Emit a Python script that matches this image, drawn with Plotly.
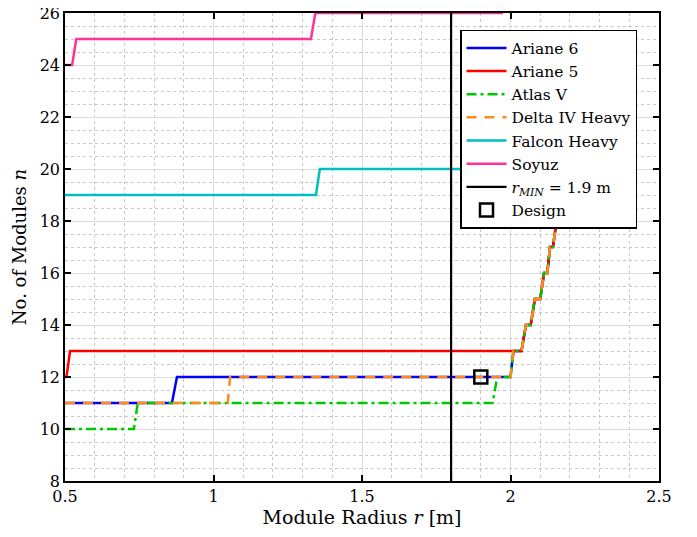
import plotly.graph_objects as go

# Common steep staircase (shared by Ariane 6, Ariane 5, Atlas V, Delta IV Heavy)
stair_r = [2.0, 2.01, 2.037, 2.052, 2.068, 2.082, 2.1, 2.113, 2.124, 2.133, 2.143, 2.155, 2.165, 2.175, 2.185, 2.195]
stair_n = [12, 13, 13, 14, 14, 15, 15, 16, 16, 17, 17, 18, 18, 19, 19, 20]

ariane6_r = [0.5, 0.86, 0.877] + stair_r
ariane6_n = [11, 11, 12] + stair_n

ariane5_r = [0.5, 0.505, 0.517] + stair_r[2:]
ariane5_n = [12, 12, 13] + stair_n[2:]

atlas_r = [0.5, 0.732, 0.745, 1.94, 1.955] + stair_r
atlas_n = [10, 10, 11, 11, 12] + stair_n

delta_r = [0.5, 1.048, 1.056] + stair_r
delta_n = [11, 11, 12] + stair_n

falcon_r = [0.5, 1.345, 1.358, 1.975]
falcon_n = [19, 19, 20, 20]

soyuz_r = [0.5, 0.524, 0.538, 1.328, 1.343, 1.975]
soyuz_n = [24, 24, 25, 25, 26, 26]

rmin_r = [1.8, 1.8]
rmin_n = [8, 26]

design_r = [1.9]
design_n = [12]

FONT = "DejaVu Serif"

fig = go.Figure()
series = [
    ("Ariane 6", ariane6_r, ariane6_n, "#0000FF", "solid"),
    ("Ariane 5", ariane5_r, ariane5_n, "#FF0000", "solid"),
    ("Atlas V", atlas_r, atlas_n, "#00C800", "10px,4px,3px,4px"),
    ("Delta IV Heavy", delta_r, delta_n, "#FF8C1A", "10px,8px"),
    ("Falcon Heavy", falcon_r, falcon_n, "#00BFBF", "solid"),
    ("Soyuz", soyuz_r, soyuz_n, "#FF3399", "solid"),
]
for name, xr, yn, col, dash in series:
    fig.add_trace(go.Scatter(x=xr, y=yn, mode="lines", name=name,
                             line=dict(color=col, width=2.5, dash=dash)))

fig.add_trace(go.Scatter(x=rmin_r, y=rmin_n, mode="lines",
                         name="<i>r</i><sub><i>MIN</i></sub> = 1.9 m",
                         line=dict(color="black", width=2.2)))
fig.add_trace(go.Scatter(x=design_r, y=design_n, mode="markers", name="Design",
                         marker=dict(symbol="square-open", size=13, color="black",
                                     line=dict(width=2.5, color="black"))))

axis_common = dict(
    showline=True, linecolor="black", linewidth=1.5, mirror="allticks",
    ticks="inside", ticklen=6, tickwidth=1.5, tickcolor="black",
    showgrid=True, gridcolor="#DCDCDC", gridwidth=1, zeroline=False,
    tickfont=dict(family=FONT, size=16, color="black"),
    automargin=False, ticklabeloverflow="allow",
)

fig.update_xaxes(range=[0.5, 2.5], dtick=0.5, tick0=0.5,
                 title=dict(text="Module Radius <i>r</i> [m]", font=dict(family=FONT, size=19, color="black"), standoff=4),
                 minor=dict(dtick=0.1, showgrid=True, gridcolor="#C8C8C8", griddash="dot", gridwidth=1, ticks=""),
                 **axis_common)
fig.update_yaxes(range=[8, 26], dtick=2, tick0=8,
                 title=dict(text="No. of Modules <i>n</i>", font=dict(family=FONT, size=18, color="black"), standoff=8),
                 minor=dict(dtick=0.5, showgrid=True, gridcolor="#C8C8C8", griddash="dot", gridwidth=1, ticks=""),
                 **axis_common)

fig.update_layout(
    width=697, height=537,
    margin=dict(l=57, r=46, t=5, b=64, autoexpand=False),
    paper_bgcolor="white", plot_bgcolor="white",
    font=dict(family=FONT, color="black"),
    legend=dict(x=0.665, y=0.964, xanchor="left", yanchor="top",
                bgcolor="white", bordercolor="black", borderwidth=1.5,
                font=dict(family=FONT, size=15.5, color="black"),
                tracegroupgap=0, itemwidth=40),
    showlegend=True,
)

fig.write_html("out.html")
